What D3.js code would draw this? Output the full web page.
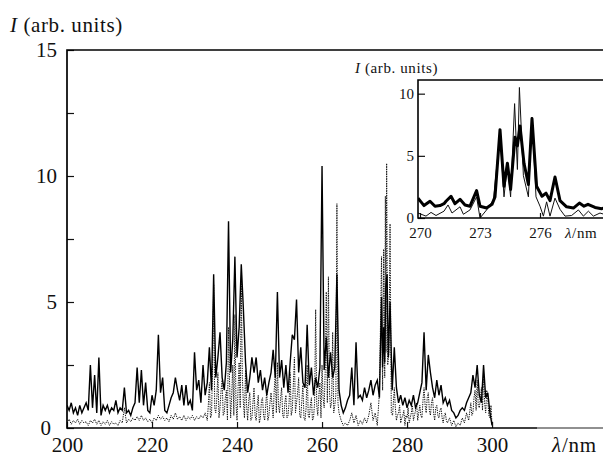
<!DOCTYPE html>
<html>
<head>
<meta charset="utf-8">
<script src="https://cdn.jsdelivr.net/npm/d3@7"></script>
<style>
  html, body { margin: 0; padding: 0; background: #fff; }
  svg { display: block; }
</style>
</head>
<body>
<div id="chart"></div>
<script>
// ---- main spectrum, [lambda nm, I arb. units] ----
const solidSeries = [
  [200,0.9],[200.5,0.7],[201,1.0],[201.5,0.6],[202,0.8],[202.5,0.5],[203,0.9],[203.5,0.6],[204,0.8],[204.5,1.0],
  [205,0.7],[205.5,2.5],[206,0.8],[206.5,2.1],[207,0.6],[207.5,2.8],[208,0.5],[208.5,0.9],[209,0.7],[209.5,0.9],
  [210,0.6],[210.5,0.8],[211,0.7],[211.5,1.1],[212,0.6],[212.5,0.8],[213,0.7],[213.5,1.6],[214,0.6],[214.5,0.7],
  [215,0.5],[215.5,0.8],[216,1.0],[216.5,2.4],[217,1.0],[217.5,2.3],[218,0.9],[218.5,1.8],[219,0.7],[219.5,0.6],
  [220,1.3],[220.5,0.9],[221,1.5],[221.5,3.7],[222,1.4],[222.5,2.0],[223,0.7],[223.5,0.6],[224,0.9],[224.5,1.2],
  [225,1.4],[225.5,2.0],[226,1.5],[226.5,1.1],[227,1.7],[227.5,0.9],[228,1.7],[228.5,0.9],[229,1.1],[229.5,0.7],
  [230,3.0],[230.5,1.5],[231,1.9],[231.5,1.0],[232,2.5],[232.5,1.3],[233,1.8],[233.5,3.2],[234,1.5],[234.5,6.1],
  [235,2.0],[235.5,2.8],[236,3.8],[236.5,2.0],[237,1.5],[237.5,2.6],[238,8.2],[238.5,2.2],[239,3.5],[239.5,6.8],
  [240,2.8],[240.5,4.0],[241,6.5],[241.5,4.7],[242,2.6],[242.5,1.4],[243,2.0],[243.5,2.8],[244,2.2],[244.5,2.8],
  [245,1.8],[245.5,2.3],[246,1.5],[246.5,2.0],[247,1.3],[247.5,1.8],[248,2.2],[248.5,3.1],[249,2.0],[249.5,5.4],
  [250,2.0],[250.5,2.7],[251,1.6],[251.5,2.5],[252,1.4],[252.5,2.6],[253,3.7],[253.5,3.5],[254,5.1],[254.5,2.2],
  [255,3.2],[255.5,1.8],[256,1.6],[256.5,4.1],[257,1.7],[257.5,2.4],[258,1.3],[258.5,2.0],[259,1.6],[259.5,2.4],
  [260,10.4],[260.5,2.3],[261,3.6],[261.5,2.0],[262,3.0],[262.5,2.0],[263,2.4],[263.5,6.1],[264,1.5],[264.5,0.9],
  [265,0.6],[265.5,0.8],[266,1.1],[266.5,1.3],[267,2.4],[267.5,0.9],[268,3.4],[268.5,1.2],[269,1.3],[269.5,1.1],
  [270,1.6],[270.5,1.2],[271,1.5],[271.5,1.9],[272,1.3],[272.5,1.7],[273,1.9],[273.5,1.2],[274,5.2],[274.25,2.4],
  [274.5,4.0],[274.75,2.6],[275,5.6],[275.3,6.1],[275.6,2.8],[276,5.0],[276.5,1.5],[277,3.2],[277.5,1.6],[278,1.0],
  [278.5,1.3],[279,0.9],[279.5,1.2],[280,0.8],[280.5,1.1],[281,0.9],[281.5,1.3],[282,0.8],[282.5,1.0],[283,1.4],
  [283.5,1.8],[284,3.8],[284.5,1.5],[285,2.9],[285.5,2.2],[286,1.6],[286.5,1.2],[287,1.9],[287.5,1.3],[288,1.7],
  [288.5,1.0],[289,1.2],[289.5,0.9],[290,1.1],[290.5,0.7],[291,0.6],[291.5,0.4],[292,0.5],[292.5,0.7],[293,0.8],
  [293.5,0.7],[294,1.0],[294.5,1.2],[295,1.4],[295.5,2.1],[296,1.6],[296.5,2.5],[297,1.3],[297.5,1.0],[298,2.5],
  [298.5,1.2],[299,1.4],[299.5,0.6],[300,0.1]
];

const dottedSeries = [
  [200,0.2],[200.5,0.35],[201,0.15],[201.5,0.3],[202,0.2],[202.5,0.35],[203,0.15],[203.5,0.3],[204,0.2],[204.5,0.25],
  [205,0.1],[205.5,0.3],[206,0.2],[206.5,0.35],[207,0.15],[207.5,0.3],[208,0.1],[208.5,0.25],[209,0.15],[209.5,0.3],
  [210,0.1],[210.5,0.25],[211,0.15],[211.5,0.2],[212,0.1],[212.5,0.3],[213,0.2],[213.5,0.8],[214,0.2],[214.5,0.35],
  [215,0.25],[215.5,0.4],[216,0.3],[216.5,0.45],[217,0.3],[217.5,0.5],[218,0.3],[218.5,0.4],[219,0.25],[219.5,0.35],
  [220,0.2],[220.5,0.4],[221,0.3],[221.5,0.5],[222,0.35],[222.5,0.45],[223,0.3],[223.5,0.4],[224,0.25],[224.5,0.5],
  [225,0.35],[225.5,0.6],[226,0.35],[226.5,0.45],[227,0.3],[227.5,0.5],[228,0.3],[228.5,0.45],[229,0.35],[229.5,0.5],
  [230,0.3],[230.5,0.45],[231,0.35],[231.5,0.5],[232,0.4],[232.5,0.6],[233,0.3],[233.5,1.8],[234,0.5],[234.5,5.7],
  [235,0.6],[235.5,2.2],[236,0.8],[236.5,1.9],[237,0.6],[237.5,1.5],[238,4.0],[238.5,0.4],[239,2.5],[239.5,4.5],
  [240,0.3],[240.5,2.6],[241,5.8],[241.5,1.0],[242,2.3],[242.5,0.3],[243,1.4],[243.5,0.4],[244,1.6],[244.5,0.3],
  [245,1.3],[245.5,0.4],[246,1.2],[246.5,0.3],[247,1.5],[247.5,0.5],[248,1.4],[248.5,0.4],[249,2.2],[249.5,2.6],
  [250,0.6],[250.5,1.6],[251,0.4],[251.5,1.3],[252,0.5],[252.5,2.2],[253,0.7],[253.5,2.8],[254,1.0],[254.5,2.0],
  [255,0.4],[255.5,1.7],[256,0.3],[256.5,2.5],[257,0.4],[257.5,1.2],[258,0.4],[258.5,4.7],[259,0.5],[259.5,1.8],
  [260,2.5],[260.5,0.8],[261,5.4],[261.25,1.0],[261.5,6.0],[262,0.8],[262.5,3.8],[263,0.9],[263.5,8.9],[264,0.6],
  [264.5,0.3],[265,0.1],[265.5,0.2],[266,0.1],[266.5,0.3],[267,0.6],[267.5,0.2],[268,0.5],[268.5,0.1],[269,0.3],
  [269.5,0.15],[270,0.4],[270.5,0.2],[271,0.5],[271.5,1.0],[272,0.3],[272.5,0.6],[273,0.1],[273.5,1.4],[274,6.8],
  [274.25,1.5],[274.5,7.1],[274.75,2.0],[274.9,9.2],[275.05,3.0],[275.2,10.5],[275.45,2.5],[275.75,3.0],[276,8.1],[276.3,0.6],
  [276.6,0.5],[277,1.6],[277.5,0.3],[278,0.6],[278.5,0.2],[279,0.5],[279.5,0.1],[280,0.4],[280.5,0.2],[281,0.6],
  [281.5,0.3],[282,0.7],[282.5,0.3],[283,0.9],[283.5,0.4],[284,1.6],[284.5,0.6],[285,1.4],[285.5,0.5],[286,1.2],
  [286.5,0.3],[287,0.9],[287.5,0.4],[288,0.8],[288.5,0.2],[289,0.6],[289.5,0.2],[290,0.4],[290.5,0.1],[291,0.3],
  [291.5,0.05],[292,0.2],[292.5,0.1],[293,0.4],[293.5,0.2],[294,0.6],[294.5,0.3],[295,1.0],[295.5,0.6],[296,1.5],
  [296.5,1.9],[297,0.8],[297.5,1.6],[298,2.2],[298.5,0.6],[299,1.1],[299.5,0.4],[300,0.1]
];
// in-between samples of the dotted trace where it oscillates densely
const dottedExtra = [
  [233.25,0.9],[233.75,0.4],[234.25,2.5],[234.75,0.8],[235.25,1.2],[235.75,0.4],[236.25,1.5],[236.75,0.5],
  [237.25,1.2],[237.75,0.3],[238.25,1.8],[238.75,1.3],[239.25,0.5],[239.75,1.0],[240.25,1.6],[240.75,0.8],
  [241.25,2.0],[241.75,0.4],[242.25,0.9],[242.75,1.1],[243.25,0.3],[243.75,1.0],[244.25,0.5],[244.75,0.9],
  [245.25,0.2],[245.75,1.1],[246.25,0.5],[246.75,0.9],[247.25,0.3],[247.75,1.0],[248.25,0.9],[248.75,1.5],
  [249.25,0.6],[249.75,0.9],[250.25,1.2],[250.75,0.5],[251.25,1.0],[251.75,0.4],[252.25,1.0],[252.75,0.5],
  [253.25,1.7],[253.75,0.6],[254.25,1.4],[254.75,0.5],[255.25,1.1],[255.75,0.4],[256.25,0.8],[256.75,0.5],
  [257.25,0.9],[257.75,0.3],[258.25,1.0],[258.75,0.9],[259.25,1.3],[259.75,0.4],[260.25,1.2],[260.75,2.3],
  [261.75,1.4],[262.25,1.0],[262.75,0.6],[263.25,1.3],[263.75,1.0],
  [277.25,0.8],[277.75,0.5],[278.25,0.9],[278.75,0.4],[279.25,0.7],[279.75,0.5],[280.25,0.8],[280.75,0.4],
  [281.25,0.9],[281.75,0.5],[282.25,1.0],[282.75,0.6],[283.25,0.5],[283.75,1.1],[284.25,0.9],[284.75,1.2],
  [285.25,0.7],[285.75,1.0],[286.25,0.6],[286.75,0.8],[287.25,0.5],[287.75,0.7],[288.25,0.4],[288.75,0.5],
  [289.25,0.3],[295.25,0.5],[295.75,1.2],[296.25,0.7],[296.75,0.9],[297.25,1.2],[297.75,0.7],[298.25,1.0],
  [298.75,1.5],[299.25,0.5],[299.75,0.9]
];

// ---- inset, 270-279 nm ----
const insetThick = [
  [269.9,1.6],[270.2,1.0],[270.5,1.35],[270.75,0.95],[271.0,1.0],[271.2,1.15],[271.3,1.35],[271.55,1.75],[271.75,1.15],
  [272.0,1.5],[272.25,1.05],[272.5,0.95],[272.83,2.2],[273.0,0.95],[273.33,0.8],[273.6,1.1],[273.75,1.7],[274.0,7.1],
  [274.2,2.55],[274.37,4.4],[274.53,2.3],[274.75,6.5],[274.87,5.8],[275.0,7.4],[275.2,4.4],[275.42,2.7],[275.6,8.0],
  [275.83,2.55],[276.1,1.75],[276.3,2.0],[276.5,1.4],[276.75,3.3],[277.0,1.4],[277.33,0.9],[277.67,0.8],[277.97,1.2],
  [278.2,0.95],[278.4,1.1],[278.75,0.85],[279.08,0.75],[279.2,0.8]
];
const insetThin = [
  [269.9,0.4],[270.3,0.15],[270.55,0.45],[270.8,0.2],[271.2,0.55],[271.4,1.05],[271.6,0.4],[272.0,0.9],[272.17,0.3],
  [272.5,0.65],[272.83,1.7],[273.0,0.0],[273.33,0.65],[273.67,1.45],[274.0,6.8],[274.2,1.7],[274.37,4.3],[274.53,1.7],
  [274.73,9.2],[274.87,3.9],[274.97,10.5],[275.17,3.4],[275.42,1.7],[275.6,8.1],[275.8,1.7],[276.0,0.95],[276.17,0.15],
  [276.33,1.3],[276.5,0.15],[276.75,1.6],[277.0,0.7],[277.25,0.15],[277.58,0.2],[277.92,0.65],[278.17,0.15],[278.42,0.55],
  [278.67,0.15],[279.0,0.4],[279.2,0.3]
];

const mainXTicks = [200, 220, 240, 260, 280, 300];
const mainYTicks = [0, 5, 10, 15];
const mainYMinor = [2.5, 7.5, 12.5];
const insetXTicks = [270, 273, 276];
const insetYTicks = [0, 5, 10];

const SERIF = "'Liberation Serif', 'Times New Roman', serif";
const W = 603, H = 456;
const svg = d3.select("#chart").append("svg").attr("width", W).attr("height", H);
svg.append("rect").attr("width", W).attr("height", H).attr("fill", "#fff");

function styleAxis(g, size) {
  g.select(".domain").remove();
  g.selectAll("line").attr("stroke", "#111").attr("stroke-width", 1.2);
  g.selectAll("text").style("font-family", SERIF).style("font-size", size + "px").attr("fill", "#111");
}

function label(xp, yp, size, italicPart, rest, spacing) {
  const t = svg.append("text").attr("x", xp).attr("y", yp)
    .style("font-family", SERIF).style("font-size", size + "px")
    .style("letter-spacing", spacing + "px").attr("fill", "#111");
  t.append("tspan").style("font-style", "italic").text(italicPart);
  t.append("tspan").text(rest);
  return t;
}

// -------------------- main plot --------------------
const L = 67, R = 603, T = 50, B = 428;
const x = d3.scaleLinear().domain([200, 326.1]).range([L, R]);
const y = d3.scaleLinear().domain([0, 15]).range([B, T]);

svg.append("clipPath").attr("id", "clipMain")
  .append("rect").attr("x", L).attr("y", T).attr("width", R - L).attr("height", B - T);

const line = d3.line().x(d => x(d[0])).y(d => y(d[1]));
const gData = svg.append("g").attr("clip-path", "url(#clipMain)");

const dottedAll = dottedSeries.concat(dottedExtra).sort((a, b) => a[0] - b[0]);
gData.append("path").datum(dottedAll)
  .attr("d", line).attr("fill", "none")
  .attr("stroke", "#111").attr("stroke-width", 1)
  .attr("stroke-dasharray", "1.3,1.1");

gData.append("path").datum(solidSeries)
  .attr("d", line).attr("fill", "none")
  .attr("stroke", "#000").attr("stroke-width", 1.4);

// axes (ticks inward)
const gx = svg.append("g").attr("transform", `translate(0,${B})`)
  .call(d3.axisBottom(x).tickValues(mainXTicks).tickSize(-6).tickFormat(d3.format("d")));
styleAxis(gx, 21);
gx.selectAll("text").attr("y", 24).attr("dy", 0);

const gy = svg.append("g").attr("transform", `translate(${L},0)`)
  .call(d3.axisLeft(y).tickValues(mainYTicks).tickSize(-7).tickPadding(10).tickFormat(d3.format("d")));
styleAxis(gy, 21);
// keep the "0" clear of the "200" below it
gy.selectAll(".tick").filter(d => d === 0).select("text").attr("x", -16);

const gym = svg.append("g").attr("transform", `translate(${L},0)`)
  .call(d3.axisLeft(y).tickValues(mainYMinor).tickSize(-7).tickFormat(""));
styleAxis(gym, 21);

// frame: left, top, bottom (bottom thins out past ~537 px as in the print)
svg.append("path")
  .attr("d", `M${R},${T}H${L}V${B}H537`)
  .attr("fill", "none").attr("stroke", "#000").attr("stroke-width", 1.7);
svg.append("line").attr("x1", 537).attr("x2", R).attr("y1", B).attr("y2", B)
  .attr("stroke", "#222").attr("stroke-width", 1.1);

// axis titles
label(10, 32, 21, "I", " (arb. units)", 0.6);
label(552, 452, 21, "λ", "/nm", 0.8);

// -------------------- inset --------------------
const iL = 418, iR = 603, iT = 80, iB = 218;
const ix = d3.scaleLinear().domain([269.9, 279.15]).range([iL, iR]);
const iy = d3.scaleLinear().domain([0, 11.1]).range([iB, iT]);

svg.append("rect").attr("x", iL).attr("y", iT).attr("width", iR - iL).attr("height", iB - iT).attr("fill", "#fff");
svg.append("clipPath").attr("id", "clipInset")
  .append("rect").attr("x", iL).attr("y", iT).attr("width", iR - iL).attr("height", iB - iT);

const iline = d3.line().x(d => ix(d[0])).y(d => iy(d[1]));
const gi = svg.append("g").attr("clip-path", "url(#clipInset)");
gi.append("path").datum(insetThin)
  .attr("d", iline).attr("fill", "none").attr("stroke", "#111").attr("stroke-width", 1);
gi.append("path").datum(insetThick)
  .attr("d", iline).attr("fill", "none").attr("stroke", "#000").attr("stroke-width", 3)
  .attr("stroke-linejoin", "round");

const gix = svg.append("g").attr("transform", `translate(0,${iB})`)
  .call(d3.axisBottom(ix).tickValues(insetXTicks).tickSize(-5).tickFormat(d3.format("d")));
styleAxis(gix, 15);
gix.selectAll("text").attr("y", 20).attr("dy", 0);

const giy = svg.append("g").attr("transform", `translate(${iL},0)`)
  .call(d3.axisLeft(iy).tickValues(insetYTicks).tickSize(-7).tickPadding(4).tickFormat(d3.format("d")));
styleAxis(giy, 15);

svg.append("path")
  .attr("d", `M${iR},${iT}H${iL}V${iB}H${iR}`)
  .attr("fill", "none").attr("stroke", "#000").attr("stroke-width", 1.6);

label(355, 73, 15, "I", " (arb. units)", 0.6);
label(565, 238, 15, "λ", "/nm", 0.6);
</script>
</body>
</html>
